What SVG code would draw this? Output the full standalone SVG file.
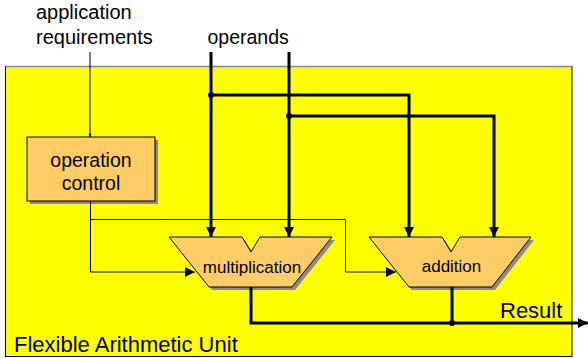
<svg xmlns="http://www.w3.org/2000/svg" width="588" height="358" viewBox="0 0 588 358">
<defs>
<style>
text{font-family:"Liberation Sans",Arial,sans-serif;fill:#000}
.thin{stroke:#000;stroke-width:1;fill:none}
.thick{stroke:#000;stroke-width:3;fill:none}
.node{fill:#FFCC66;stroke:#000;stroke-width:1}
.shadow{fill:#8a8a8a;stroke:none}
</style>
<marker id="ah" viewBox="0 0 10 10" refX="10" refY="5" markerWidth="10" markerHeight="10" markerUnits="userSpaceOnUse" orient="auto"><path d="M0,0 L10,5 L0,10 Z" fill="#000"/></marker>
<marker id="ahs" viewBox="0 0 10 10" refX="10" refY="5" markerWidth="4" markerHeight="3.2" orient="auto"><path d="M0,0 L10,5 L0,10 Z" fill="#000"/></marker>
</defs>
<rect width="588" height="358" fill="#fff"/>
<g id="unit">
<rect x="5.5" y="66.5" width="566.5" height="290" fill="#FFFF00" stroke="#000" stroke-width="1"/>
<line x1="5.5" y1="66.5" x2="572" y2="66.5" stroke="#888" stroke-width="1.5"/>
<text x="14" y="352" font-size="22">Flexible Arithmetic Unit</text>
</g>
<g id="labels">
<text x="36" y="19" font-size="20">application</text>
<text x="36" y="44" font-size="20">requirements</text>
<text x="207.5" y="44" font-size="19.5">operands</text>
<text x="500" y="318" font-size="22">Result</text>
</g>
<g id="operation-control">
<rect x="30" y="140" width="128" height="64" class="shadow"/>
<rect x="27" y="137" width="128" height="64" class="node"/>
<text x="91" y="167" font-size="19.5" text-anchor="middle">operation</text>
<text x="91" y="190" font-size="19.5" text-anchor="middle">control</text>
</g>
<g id="multiplication">
<path d="M172,240 L245,240 L254,255 L263,240 L335,240 L295,290 L212,290 Z" class="shadow"/>
<path d="M169,237 L242,237 L251,252 L260,237 L332,237 L292,287 L209,287 Z" class="node"/>
<text x="252" y="273" font-size="17" text-anchor="middle">multiplication</text>
</g>
<g id="addition">
<path d="M372,240 L445,240 L454,255 L463,240 L534,240 L495,290 L412,290 Z" class="shadow"/>
<path d="M369,237 L442,237 L451,252 L460,237 L531,237 L492,287 L409,287 Z" class="node"/>
<text x="451.5" y="272" font-size="17" text-anchor="middle">addition</text>
</g>
<g id="connectors">
<line x1="90" y1="52" x2="90" y2="137" class="thin" marker-end="url(#ahs)" stroke-width="1"/>
<polyline points="90.5,201 90.5,272 195,272" class="thin" marker-end="url(#ah)"/>
<polyline points="90.5,219.5 345.5,219.5 345.5,272 396,272" class="thin" marker-end="url(#ah)"/>
<line x1="211" y1="52" x2="211" y2="237" class="thick" marker-end="url(#ah)"/>
<line x1="289" y1="52" x2="289" y2="237" class="thick" marker-end="url(#ah)"/>
<polyline points="211,95 409,95 409,237" class="thick" marker-end="url(#ah)"/>
<polyline points="289,116 494,116 494,237" class="thick" marker-end="url(#ah)"/>
<circle cx="211" cy="95" r="3" fill="#000"/>
<circle cx="289" cy="116" r="3" fill="#000"/>
<polyline points="251,287 251,323 588,323" class="thick" marker-end="url(#ah)"/>
<line x1="452" y1="287" x2="452" y2="323" class="thick"/>
<circle cx="452" cy="323" r="3" fill="#000"/>
</g>
</svg>
